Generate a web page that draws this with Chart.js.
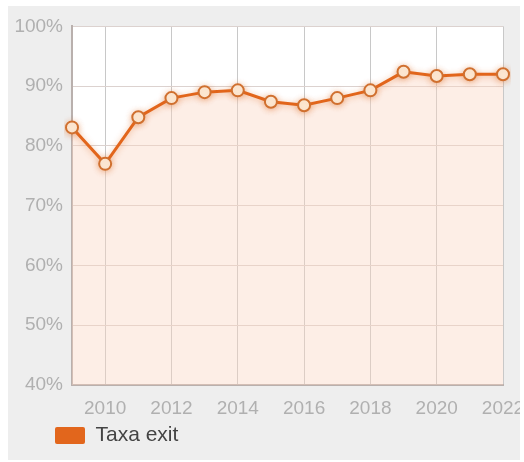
<!DOCTYPE html>
<html>
<head>
<meta charset="utf-8">
<script src="https://cdn.jsdelivr.net/npm/chart.js@4/dist/chart.umd.min.js"></script>
<style>
    html, body { margin: 0; padding: 0; background: #ffffff; }
    #wrap { position: absolute; left: 8px; top: 6px; width: 512px; height: 454px; background: #eeeeee; }
</style>
</head>
<body>
<div id="wrap"><canvas id="exitChart"></canvas></div>
<script>
const years = ['2009', '2010', '2011', '2012', '2013', '2014', '2015', '2016', '2017', '2018', '2019', '2020', '2021', '2022'];
const exitRate = [83.1, 77.0, 84.8, 88.0, 89.0, 89.3, 87.4, 86.8, 88.0, 89.3, 92.4, 91.7, 92.0, 92.0];
const seriesLabel = 'Taxa exit';

const lineColor = '#e2661c';
const tickFont = { family: 'Arial, "Liberation Sans", sans-serif', size: 19 };

// white plot background behind the fill
const plotBackground = {
    id: 'plotBackground',
    beforeDraw(chart) {
        const { ctx, chartArea } = chart;
        ctx.save();
        ctx.fillStyle = '#ffffff';
        ctx.fillRect(chartArea.left, chartArea.top, chartArea.right - chartArea.left, chartArea.bottom - chartArea.top);
        ctx.restore();
    }
};

// soft orange glow under the line and markers
const lineGlow = {
    id: 'lineGlow',
    beforeDatasetDraw(chart) {
        const ctx = chart.ctx;
        ctx.save();
        ctx.shadowColor = 'rgba(225, 110, 40, 0.45)';
        ctx.shadowBlur = 6;
        ctx.shadowOffsetY = 1;
    },
    afterDatasetDraw(chart) {
        chart.ctx.restore();
    }
};

// nudge the legend in from the left edge
const legendIndent = {
    id: 'legendIndent',
    afterLayout(chart) {
        if (chart.legend) chart.legend.left = 37;
    }
};

const ctx = document.getElementById('exitChart').getContext('2d');
const exitChart = new Chart(ctx, {
    type: 'line',
    data: {
        labels: years,
        datasets: [{
            label: seriesLabel,
            data: exitRate,
            borderColor: lineColor,
            borderWidth: 3,
            backgroundColor: 'rgba(250, 212, 192, 0.4)',
            fill: 'start',
            tension: 0,
            pointRadius: 6,
            pointBorderWidth: 2,
            pointBorderColor: '#d0702f',
            pointBackgroundColor: '#fff4e4'
        }]
    },
    options: {
        responsive: true,
        maintainAspectRatio: false,
        animation: false,
        layout: { padding: { left: 0, top: 16, right: 17, bottom: 4 } },
        plugins: {
            legend: {
                display: true,
                position: 'bottom',
                align: 'start',
                labels: {
                    boxWidth: 30,
                    boxHeight: 17,
                    padding: 10,
                    color: '#444444',
                    font: { family: 'Arial, "Liberation Sans", sans-serif', size: 21 },
                    generateLabels: chart => Chart.defaults.plugins.legend.labels.generateLabels(chart).map(item => ({
                        ...item, fillStyle: lineColor, strokeStyle: lineColor, lineWidth: 0, borderRadius: 2
                    }))
                }
            },
            title: { display: false },
            tooltip: { enabled: false }
        },
        scales: {
            x: {
                type: 'category',
                offset: false,
                grid: {
                    drawTicks: false,
                    color: c => (parseInt(years[c.index], 10) % 2 === 0 ? '#c8c8c8' : 'rgba(0,0,0,0)')
                },
                border: { display: true, color: '#b9b0ad', width: 2 },
                ticks: {
                    autoSkip: false,
                    maxRotation: 0,
                    padding: 12,
                    color: '#b0b0b0',
                    font: tickFont,
                    callback: function(value, index) {
                        const y = years[index];
                        return parseInt(y, 10) % 2 === 0 ? y : '';
                    }
                },
                afterFit: scale => {
                    scale.height = 30;
                    scale.paddingLeft = 0;
                    scale.paddingRight = 0;
                }
            },
            y: {
                min: 40,
                max: 100,
                grid: { drawTicks: false, color: '#dcd2cf' },
                border: { display: true, color: '#b9b0ad', width: 2 },
                ticks: {
                    stepSize: 10,
                    padding: 9,
                    color: '#b0b0b0',
                    font: tickFont,
                    callback: v => v + '%'
                },
                afterFit: scale => {
                    scale.width = 64;
                }
            }
        }
    },
    plugins: [plotBackground, lineGlow, legendIndent]
});
</script>
</body>
</html>
